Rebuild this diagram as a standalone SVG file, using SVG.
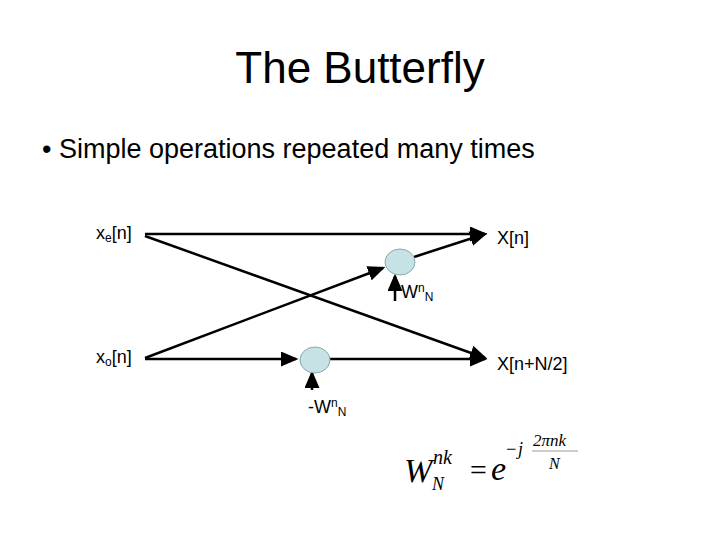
<svg xmlns="http://www.w3.org/2000/svg" width="720" height="540" viewBox="0 0 720 540">
<style>
.t{font-family:"Liberation Sans",Arial,sans-serif;fill:#000}
.l{font-family:"Liberation Sans",Arial,sans-serif;font-size:18px}
.m{font-family:"Liberation Serif","Times New Roman",serif;font-style:italic}
.c{stroke:#000;stroke-width:2.5;fill:none}
.n{fill:#c6e2e4;stroke:#8aa;stroke-width:1}
</style>
<defs><marker id="a" markerWidth="7" markerHeight="6" refX="6" refY="3" orient="auto" markerUnits="strokeWidth"><path d="M0,0L7,3L0,6z" fill="#000"/></marker></defs>
<rect width="720" height="540" fill="#fff"/>
<text class="t" x="360" y="83" font-size="44" text-anchor="middle">The Butterfly</text>
<text class="t" x="42" y="158" font-size="27">• Simple operations repeated many times</text>
<g id="connectors">
<line class="c" x1="145" y1="234" x2="485" y2="234" marker-end="url(#a)"/>
<line class="c" x1="145" y1="236" x2="485" y2="358" marker-end="url(#a)"/>
<line class="c" x1="145" y1="358" x2="383" y2="268" marker-end="url(#a)"/>
<line class="c" x1="414" y1="257" x2="485" y2="234" marker-end="url(#a)"/>
<line class="c" x1="145" y1="359" x2="296" y2="359" marker-end="url(#a)"/>
<line class="c" x1="330" y1="359" x2="485" y2="359" marker-end="url(#a)"/>
<line class="c" x1="395" y1="301" x2="395" y2="276" marker-end="url(#a)"/>
<line class="c" x1="312" y1="390" x2="312" y2="373" marker-end="url(#a)"/>
</g>
<g id="node-upper"><ellipse class="n" cx="400" cy="262" rx="15" ry="13"/></g>
<g id="node-lower"><ellipse class="n" cx="315" cy="360" rx="15" ry="13"/></g>
<g id="labels">
<text class="l" x="96" y="239">x<tspan font-size="12" dy="3">e</tspan><tspan dy="-3">[n]</tspan></text>
<text class="l" x="497" y="244">X[n]</text>
<text class="l" x="401" y="298">W<tspan font-size="12" dy="-6">n</tspan><tspan font-size="12" dy="9">N</tspan></text>
<text class="l" x="96" y="363">x<tspan font-size="12" dy="3">o</tspan><tspan dy="-3">[n]</tspan></text>
<text class="l" x="497" y="370">X[n+N/2]</text>
<text class="l" x="308" y="413">-W<tspan font-size="12" dy="-6">n</tspan><tspan font-size="12" dy="9">N</tspan></text>
</g>
<g id="formula">
<text class="m" x="404" y="482" font-size="34">W</text>
<text class="m" x="433" y="464" font-size="20">nk</text>
<text class="m" x="432" y="490" font-size="18">N</text>
<text class="m" x="468" y="480" font-size="30" font-style="normal">=</text>
<text class="m" x="491" y="480" font-size="34">e</text>
<text class="m" x="505" y="455" font-size="18" font-style="normal">−</text>
<text class="m" x="518" y="455" font-size="18">j</text>
<text class="m" x="533" y="446" font-size="17">2πnk</text>
<line x1="532" y1="451" x2="578" y2="451" stroke="#999" stroke-width="1"/>
<text class="m" x="549" y="469" font-size="16">N</text>
</g>
</svg>
